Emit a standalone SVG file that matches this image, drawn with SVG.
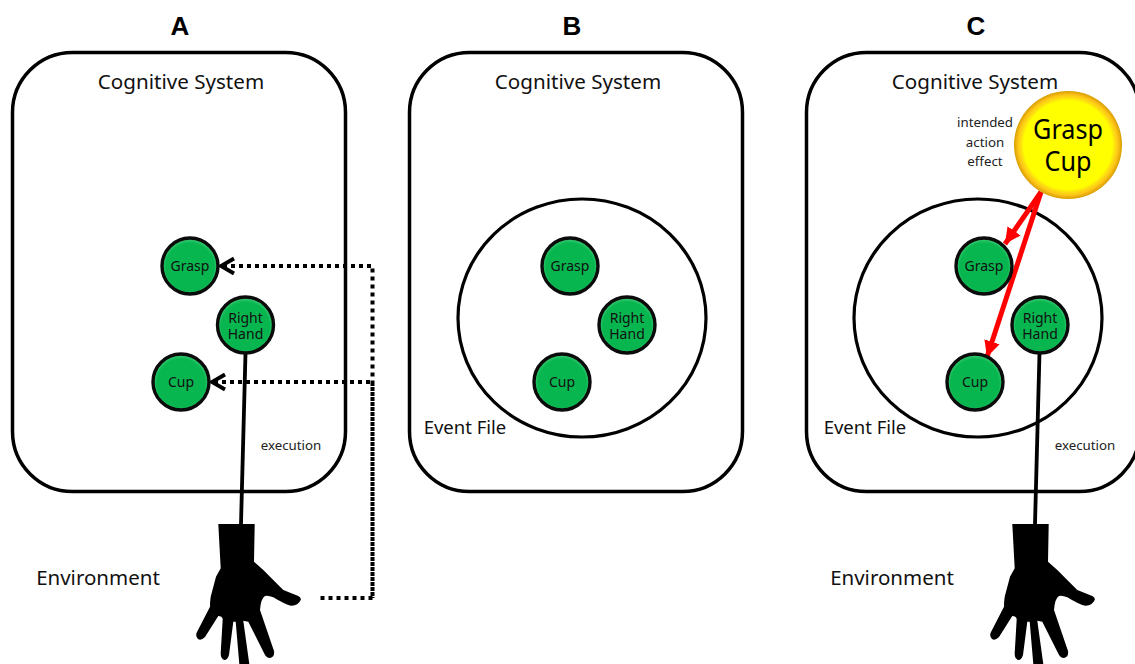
<svg xmlns="http://www.w3.org/2000/svg" width="1135" height="664" viewBox="0 0 1135 664">
<style>
text{font-family:"Noto Sans","Open Sans","DejaVu Sans",sans-serif;text-anchor:middle;fill:#000}
.title{font-family:"Liberation Sans",Arial,sans-serif;font-weight:700;font-size:26px}
.head{font-size:20.600px;fill:#111}
.label{font-size:18.500px;fill:#111}
.env{font-size:20.500px;fill:#111}
.small{font-size:13.300px;fill:#222}
.node{font-size:14px;fill:#111}
.goal{font-size:28px}
.box{fill:#fff;stroke:#000;stroke-width:3.500}
.file{fill:#fff;stroke:#000;stroke-width:3.200}
.green{fill:url(#g);stroke:#0b0b0b;stroke-width:3.400}
.solid{fill:none;stroke:#000;stroke-width:3.800}
.dot{fill:none;stroke:#000;stroke-width:4;stroke-dasharray:4 4}
.dense{fill:none;stroke:#000;stroke-width:4;stroke-dasharray:4 1}
.red{fill:none;stroke:#f00;stroke-width:5}
.tip{fill:none;stroke:#000;stroke-width:3.800}
</style>
<defs>
<radialGradient id="g" cx="50%" cy="52%" r="50%"><stop offset="0.86" stop-color="#08b650"/><stop offset="1" stop-color="#3ccb74"/></radialGradient>
<radialGradient id="y" cx="50%" cy="50%" r="50%"><stop offset="0.82" stop-color="#ffff00"/><stop offset="0.87" stop-color="#fde010"/><stop offset="0.93" stop-color="#fcc419"/><stop offset="1" stop-color="#d89c00"/></radialGradient>
<marker id="ra" markerUnits="userSpaceOnUse" markerWidth="18" markerHeight="18" refX="16" refY="8" orient="auto"><path d="M0 0L16 8L0 16Z" fill="#f00"/></marker>
<path id="hand" d="M218.300 524L254.700 524L254 561.700L263.300 570L275 581.700L283.300 590L298.300 596Q301.500 598 300.700 600Q298 606 291 605.700Q285 604.500 273.300 597.300Q268 595 265 596Q261 598 260 610L274 651Q275 657 270 658Q266 658 264 653L248.300 621.700L243.300 620.700L249.300 664L239.300 664L235.700 621.700L233.300 621.700L229 655Q227.500 660 224.500 660Q220.500 659 220.700 653L222.700 619Q222 616 218.300 616L205 637Q201 641 198 639Q195 636 197 632L210 606.700Q210 598 211.700 593L216 576.700L220.700 568.300Z" fill="#000"/>
</defs>
<rect width="1135" height="664" fill="#fff"/>
<text class="title" x="180" y="35">A</text>
<text class="title" x="572" y="35">B</text>
<text class="title" x="976" y="35">C</text>

<g id="system-a"><rect class="box" x="12.500" y="52.500" width="333" height="439" rx="60" ry="60"/><text class="head" x="181" y="89">Cognitive System</text></g>
<g id="system-b"><rect class="box" x="409.500" y="52.500" width="333" height="439" rx="60" ry="60"/><text class="head" x="578" y="89">Cognitive System</text></g>
<g id="system-c"><rect class="box" x="806.500" y="52.500" width="333" height="439" rx="60" ry="60"/><text class="head" x="975" y="89">Cognitive System</text></g>

<g id="event-file-b"><ellipse class="file" cx="582" cy="318" rx="124" ry="119"/><text class="label" x="465" y="434">Event File</text></g>
<g id="event-file-c"><ellipse class="file" cx="978" cy="318" rx="124" ry="119"/><text class="label" x="865" y="434">Event File</text></g>

<g id="connectors">
<path class="solid" d="M245.500 353L241 524"/>
<path class="solid" d="M1039.500 353L1035 524"/>
<path class="dot" d="M223 266H372.500V382"/>
<path class="dot" d="M214 382H372.500"/>
<path class="dense" d="M372.500 382V598"/>
<path class="dot" d="M372.500 598H318"/>
<path class="tip" d="M234 258.500L221 266L234 273.500"/>
<path class="tip" d="M225 374.500L212 382L225 389.500"/>
<path class="red" marker-end="url(#ra)" d="M1041 192L1005 244"/>
<path class="red" marker-end="url(#ra)" d="M1041 192L987 357"/>
</g>

<g id="hand-a"><use href="#hand"/></g>
<g id="hand-c"><use href="#hand" x="794"/></g>

<g id="a-grasp"><circle class="green" cx="190" cy="266" r="28"/><text class="node" x="190" y="271">Grasp</text></g>
<g id="a-right-hand"><circle class="green" cx="245.500" cy="325" r="28"/><text class="node" y="323"><tspan x="245.500">Right</tspan><tspan x="245.500" dy="16">Hand</tspan></text></g>
<g id="a-cup"><circle class="green" cx="181" cy="382" r="28"/><text class="node" x="181" y="387">Cup</text></g>

<g id="b-grasp"><circle class="green" cx="570" cy="266" r="28"/><text class="node" x="570" y="271">Grasp</text></g>
<g id="b-right-hand"><circle class="green" cx="627" cy="325" r="28"/><text class="node" y="323"><tspan x="627">Right</tspan><tspan x="627" dy="16">Hand</tspan></text></g>
<g id="b-cup"><circle class="green" cx="562" cy="382" r="28"/><text class="node" x="562" y="387">Cup</text></g>

<g id="c-grasp"><circle class="green" cx="984" cy="266" r="28"/><text class="node" x="984" y="271">Grasp</text></g>
<g id="c-right-hand"><circle class="green" cx="1040" cy="325" r="28"/><text class="node" y="323"><tspan x="1040">Right</tspan><tspan x="1040" dy="16">Hand</tspan></text></g>
<g id="c-cup"><circle class="green" cx="975" cy="382" r="28"/><text class="node" x="975" y="387">Cup</text></g>

<g id="c-goal"><circle cx="1068" cy="145" r="54" fill="url(#y)"/><text class="goal" transform="translate(1068 139) scale(.9 1)">Grasp</text><text class="goal" transform="translate(1068 171) scale(.9 1)">Cup</text></g>

<text class="small" x="985" y="127">intended</text>
<text class="small" x="985" y="147">action</text>
<text class="small" x="985" y="166">effect</text>
<text class="small" x="291" y="450">execution</text>
<text class="small" x="1085" y="450">execution</text>
<text class="env" x="98" y="585">Environment</text>
<text class="env" x="892" y="585">Environment</text>
</svg>
